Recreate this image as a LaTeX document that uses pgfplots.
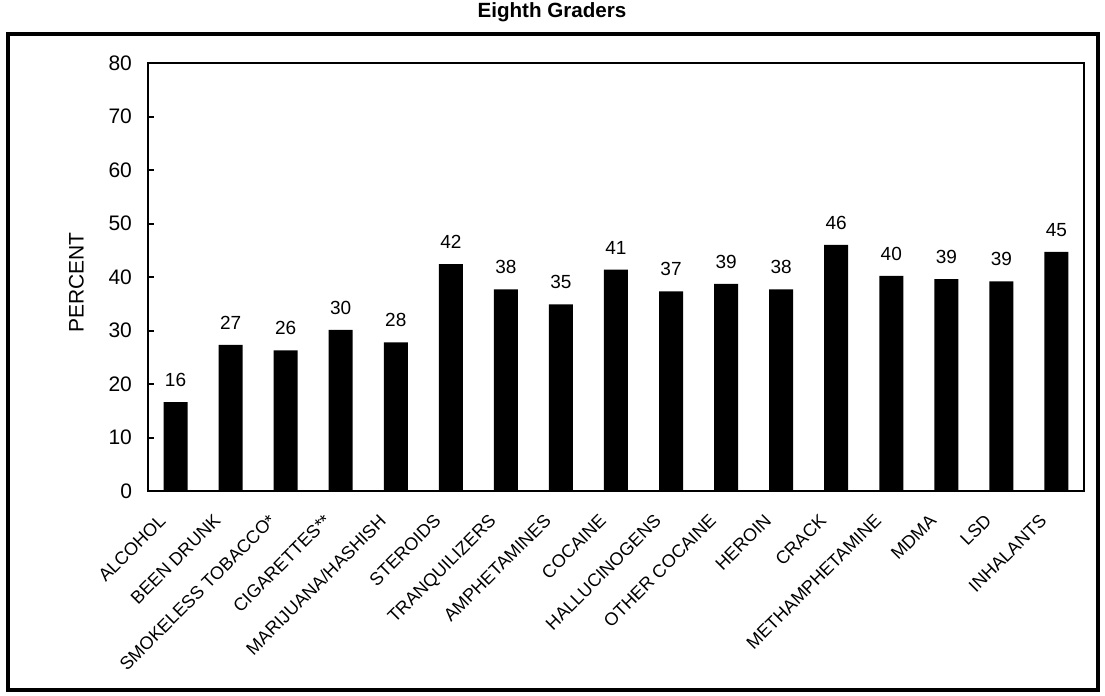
\documentclass[border=0pt]{standalone}
\usepackage{fontspec}
\setmainfont{Liberation Sans}
\usepackage{pgfplots}
\usepackage{pgfplotstable}
\pgfplotsset{compat=1.18}
\pgfplotstableread{
x y lab
0 16.6 16
1 27.3 27
2 26.3 26
3 30.1 30
4 27.8 28
5 42.4 42
6 37.7 38
7 34.9 35
8 41.4 41
9 37.3 37
10 38.7 39
11 37.7 38
12 46.0 46
13 40.2 40
14 39.6 39
15 39.2 39
16 44.7 45
}\data
\begin{document}
\begin{tikzpicture}
\path[use as bounding box] (-74pt,-102.5pt) rectangle (478.5pt,245.5pt);
\draw[line width=2pt] (-70pt,-99.5pt) rectangle (475pt,228.5pt);
\node[font=\fontsize{10.3}{12}\selectfont\bfseries] at (202pt,239.5pt) {Eighth Graders};
\begin{axis}[
  at={(0,0)}, anchor=south west,
  scale only axis, width=468pt, height=214pt,
  xmin=-0.5, xmax=16.5, ymin=0, ymax=80,
  ytick={0,10,...,80},
  ytick pos=left, tick align=inside, major tick length=3pt,
  xtick=data,
  xticklabels={ALCOHOL,BEEN DRUNK,SMOKELESS TOBACCO*,CIGARETTES**,MARIJUANA/HASHISH,STEROIDS,TRANQUILIZERS,AMPHETAMINES,COCAINE,HALLUCINOGENS,OTHER COCAINE,HEROIN,CRACK,METHAMPHETAMINE,MDMA,LSD,INHALANTS},
  xtick style={draw=none},
  xticklabel style={xshift=-8.9pt, yshift=-6.4pt, rotate=45, anchor=north east, inner sep=1pt, font=\fontsize{9}{10.8}\selectfont},
  /pgf/number format/assume math mode=true,
  axis line style={line width=1pt},
  every tick/.style={line width=1pt, black},
  ylabel={PERCENT},
  ylabel style={at={(axis description cs:-0.0764,0.487)}, anchor=center, font=\fontsize{10.5}{12.6}\selectfont},
  yticklabel style={xshift=-4.5pt, font=\fontsize{10.5}{12.6}\selectfont},
  ybar, bar width=12pt,
  nodes near coords, point meta=explicit symbolic,
  nodes near coords style={anchor=south, yshift=4.2pt, font=\fontsize{9.5}{11.4}\selectfont},
]
\addplot[fill=black, draw=none] table[x=x, y=y, meta=lab] {\data};
\end{axis}
\end{tikzpicture}
\end{document}
